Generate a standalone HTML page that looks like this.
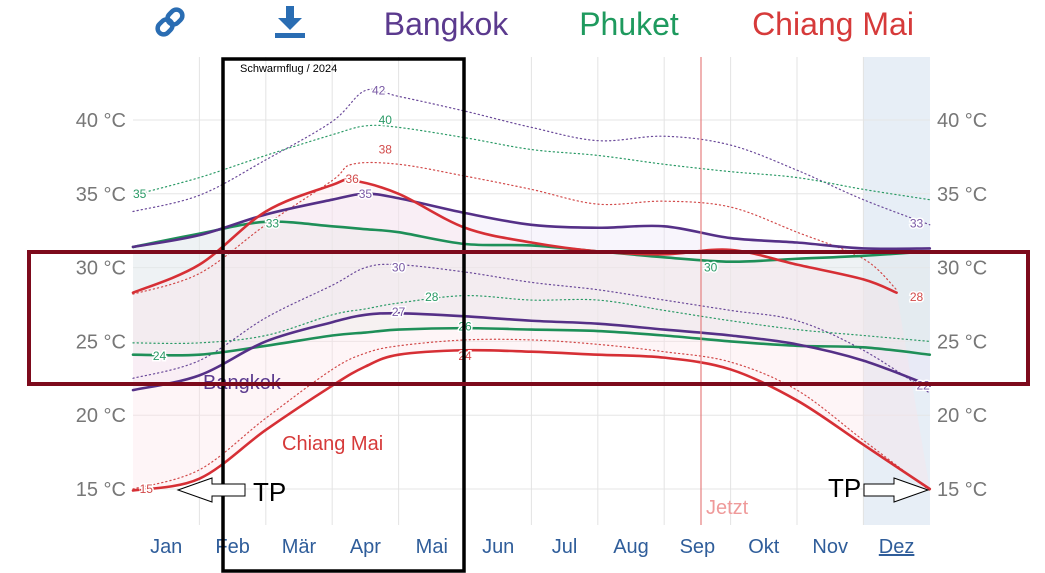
<!DOCTYPE html>
<html><head><meta charset="utf-8"><style>
body{margin:0;background:#fff;font-family:"Liberation Sans",sans-serif}
svg{display:block}
</style></head><body>
<svg id="c" width="1045" height="573" viewBox="0 0 1045 573">
<rect x="0" y="0" width="1045" height="573" fill="#fff"/>
<rect x="863" y="57" width="67" height="468" fill="#e7eef6"/>
<g id="grid"></g>
<g id="fills"></g>
<g id="lines"></g>
<g id="labels"></g>
<line x1="701" y1="57" x2="701" y2="525" stroke="#e58080" stroke-width="1.2"/>
<text x="706" y="514" font-size="20" fill="#ef9a9a">Jetzt</text>
<text x="203" y="389" font-size="20" fill="#5b3a8e">Bangkok</text>
<text x="282" y="450" font-size="20" fill="#d63a3a">Chiang Mai</text>
<g transform="translate(170,22) rotate(-45)" fill="none" stroke="#2a6db3" stroke-width="4.5">
<rect x="-15" y="-6" width="16" height="12" rx="6"/><rect x="-1" y="-6" width="16" height="12" rx="6"/></g>
<g fill="#2a6db3">
<rect x="286" y="6" width="8" height="14"/><polygon points="278,18 302,18 290,30"/><rect x="275" y="33" width="30" height="5"/></g>
<text x="446" y="35" font-size="32" fill="#5b3a8e" text-anchor="middle">Bangkok</text>
<text x="629" y="35" font-size="32" fill="#1e9a5e" text-anchor="middle">Phuket</text>
<text x="833" y="35" font-size="32" fill="#d63a3a" text-anchor="middle">Chiang Mai</text>
<rect x="223" y="59" width="241" height="512" fill="none" stroke="#000" stroke-width="3.5"/>
<text x="240" y="72" font-size="11" fill="#000">Schwarmflug / 2024</text>
<rect x="29" y="252" width="999" height="132" fill="none" stroke="#7d0a1c" stroke-width="4"/>
<g>
<polygon points="178,490 212,478 212,484 245,484 245,496 212,496 212,502" fill="#fff" stroke="#000" stroke-width="1"/>
<text x="253" y="501" font-size="26" fill="#000">TP</text></g>
<g>
<polygon points="928,490 894,478 894,484 864,484 864,496 894,496 894,502" fill="#fff" stroke="#000" stroke-width="1"/>
<text x="828" y="497" font-size="26" fill="#000">TP</text></g>
</svg>
<script>
const months=["Jan","Feb","Mär","Apr","Mai","Jun","Jul","Aug","Sep","Okt","Nov","Dez"];
const yTicks=[15,20,25,30,35,40];
const pos=[0,1,2,3,3.5,4,5,6,7,8,9,10,11,12];
const bkkMax=[31.4,32.2,33.6,34.6,35.0,34.7,33.7,32.9,32.7,32.8,32.0,31.7,31.3,31.3];
const bkkMin=[21.7,22.7,25.0,26.3,26.8,26.9,26.7,26.4,26.2,25.8,25.4,24.8,23.7,22.0];
const bkkRecMax=[33.8,34.9,37.3,39.9,42.0,41.6,40.6,39.5,38.6,38.9,38.3,36.6,34.6,32.9];
const bkkRecMin=[22.5,23.7,26.6,28.8,30.0,30.2,29.7,29.0,28.5,27.8,27.1,26.4,24.4,21.5];
const phkMax=[31.4,32.3,33.1,32.8,32.6,32.4,31.6,31.5,31.1,30.7,30.4,30.6,30.8,31.1];
const phkMin=[24.1,24.1,24.7,25.4,25.6,25.8,25.9,25.8,25.7,25.4,25.0,24.7,24.6,24.1];
const phkRecMax=[34.9,36.1,37.6,39.0,39.6,39.5,38.8,38.0,37.6,37.0,36.5,36.1,35.3,34.6];
const phkRecMin=[24.9,24.9,25.4,26.8,27.2,27.6,28.1,27.8,27.8,27.1,26.4,25.8,25.4,25.0];
const cmMaxPos=[0,1,2,3,3.3,4,5,6,7,8,9,10,11,11.5];
const cmMax=[28.3,30.2,33.8,35.6,35.9,35.0,32.7,31.7,31.1,30.9,31.2,30.2,29.2,28.3];
const cmMin=[14.9,15.7,19.0,22.0,23.3,24.1,24.4,24.3,24.1,23.9,23.1,21.0,18.0,15.0];
const cmRecMax=[28.2,29.6,32.9,35.9,37.0,37.0,36.2,35.3,34.3,34.5,34.1,32.4,30.6,28.5];
const cmRecMin=[15.0,16.3,19.8,23.1,24.2,24.7,25.1,25.1,24.8,24.3,23.6,21.7,18.3,14.9];
const X=m=>133+m*66.4, Y=v=>489-(v-15)*14.76;
const NS="http://www.w3.org/2000/svg";
function mk(t,a,p){const e=document.createElementNS(NS,t);for(const k in a)e.setAttribute(k,a[k]);p.appendChild(e);return e;}
function pts(ps,vs){return ps.map((p,i)=>[X(p),Y(vs[i])]);}
function smooth(P){let d="";for(let i=0;i<P.length-1;i++){const p0=P[i-1]||P[i],p1=P[i],p2=P[i+1],p3=P[i+2]||p2;
const c1=[p1[0]+(p2[0]-p0[0])/6,p1[1]+(p2[1]-p0[1])/6],c2=[p2[0]-(p3[0]-p1[0])/6,p2[1]-(p3[1]-p1[1])/6];
d+=(i?"":"M"+p1[0]+","+p1[1])+"C"+c1+" "+c2+" "+p2;}return d;}
const grid=document.getElementById('grid'),fills=document.getElementById('fills'),lines=document.getElementById('lines'),labels=document.getElementById('labels');
yTicks.forEach(v=>{
 const l=mk('line',{x1:133,x2:930,y1:Y(v),y2:Y(v),stroke:'#e6e6e6','stroke-width':1},grid);
 
 
 const a=mk('text',{x:126,y:Y(v)+7,'font-size':20,fill:'#777','text-anchor':'end'},labels);a.textContent=v+" °C";
 
 
 const b=mk('text',{x:937,y:Y(v)+7,'font-size':20,fill:'#777'},labels);b.textContent=v+" °C";
 
 
});
months.forEach((m,i)=>{
 if(i>0){const l=mk('line',{x1:X(i),x2:X(i),y1:57,y2:525,stroke:'#e3e3e3','stroke-width':1},grid);
 
 }
 const t=mk('text',{x:X(i+0.5),y:553,'font-size':20,fill:'#2f5d9a','text-anchor':'middle'},labels);t.textContent=m;
 if(m==="Dez")t.setAttribute('text-decoration','underline');
 
 
});
function band(hp,hi,lp,lo,col,name){
 const P=pts(hp,hi),Q=pts(lp,lo).reverse();
 const d=smooth(P)+"L"+Q[0]+smooth(Q).replace(/^M[^C]*/,"")+"Z";
 const e=mk('path',{d:d,fill:col,'fill-opacity':0.35},fills);
 
 
}
band(pos,bkkMax,pos,bkkMin,'#ece2f5','bangkok-range-fill');
band(pos,phkMax,pos,phkMin,'#dcefe6','phuket-range-fill');
band(cmMaxPos,cmMax,pos,cmMin,'#fbe3e8','chiang-mai-range-fill');
function line(ps,vs,col,w,dash,name){
 const e=mk('path',{d:smooth(pts(ps,vs)),fill:'none',stroke:col,'stroke-width':w,'stroke-dasharray':dash||'none','stroke-linecap':'round'},lines);
 
 
}
line(pos,bkkRecMax,'#6b4a9a',1.2,'1.2 3','bangkok-record-max');
line(pos,bkkRecMin,'#6b4a9a',1.2,'1.2 3','bangkok-record-min');
line(pos,phkRecMax,'#2a9a66',1.2,'1.2 3','phuket-record-max');
line(pos,phkRecMin,'#2a9a66',1.2,'1.2 3','phuket-record-min');
line(cmMaxPos,cmRecMax,'#d24a4a',1.2,'1.2 3','chiang-mai-record-max');
line(pos,cmRecMin,'#d24a4a',1.2,'1.2 3','chiang-mai-record-min');
line(pos,phkMax,'#1e8f58',2.6,null,'phuket-max');
line(pos,phkMin,'#1e8f58',2.6,null,'phuket-min');
line(pos,bkkMax,'#553087',2.6,null,'bangkok-max');
line(pos,bkkMin,'#553087',2.6,null,'bangkok-min');
line(cmMaxPos,cmMax,'#d62f35',2.6,null,'chiang-mai-max');
line(pos,cmMin,'#d62f35',2.6,null,'chiang-mai-min');
const valLabels=[[3.7,42,'#7a5aa5'],[3.8,40,'#2a9a66'],[3.8,38,'#d24a4a'],[3.3,36,'#d24a4a'],[3.5,35,'#7a5aa5'],[2.1,33,'#2a9a66'],[4.0,30,'#7a5aa5'],[4.5,28,'#2a9a66'],[4.0,27,'#7a5aa5'],[5.0,26,'#2a9a66'],[5.0,24,'#d24a4a'],[0.1,35,'#2a9a66'],[0.4,24,'#2a9a66'],[0.2,15,'#d24a4a'],[8.7,30,'#2a9a66'],[11.8,33,'#7a5aa5'],[11.8,28,'#d24a4a'],[11.9,22,'#7a5aa5']];
valLabels.forEach(v=>{
 const t=mk('text',{x:X(v[0]),y:Y(v[1])+4,'font-size':12,fill:v[2],'text-anchor':'middle',stroke:'#fff','stroke-width':3,'paint-order':'stroke'},labels);
 t.textContent=v[1];
 
 
});
</script>
</body></html>
